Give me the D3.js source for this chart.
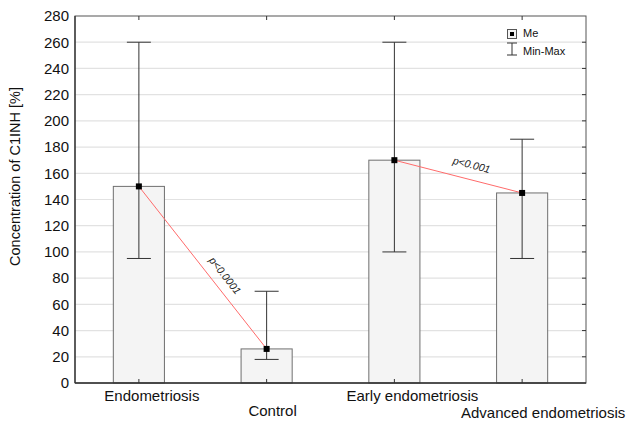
<!DOCTYPE html>
<html>
<head>
<meta charset="utf-8">
<script src="https://cdn.jsdelivr.net/npm/d3@7"></script>
<style>
  body { margin: 0; background: #fff; }
  text { font-family: Arial, "Liberation Sans", sans-serif; fill: #111; }
</style>
</head>
<body>
<div id="chart"></div>
<script>
const groups = ["Endometriosis", "Control", "Early endometriosis", "Advanced endometriosis"];
const medians = [150, 26, 170, 145];
const mins = [95, 18, 100, 95];
const maxs = [260, 70, 260, 186];
const yTicks = d3.range(0, 281, 20);
const comparisons = [
  { from: 0, to: 1, label: "p<0.0001" },
  { from: 2, to: 3, label: "p<0.001" }
];

const width = 630, height = 423;
const margin = { top: 16, right: 44, bottom: 40, left: 75 };

const svg = d3.select("#chart").append("svg")
  .attr("width", width).attr("height", height);

const x = d3.scaleBand().domain(groups)
  .range([margin.left, width - margin.right]).padding(0);
const y = d3.scaleLinear().domain([0, 280])
  .range([height - margin.bottom, margin.top]);

const x0 = margin.left, x1 = width - margin.right;
const y0 = height - margin.bottom, y1 = margin.top;
const cx = (i) => x(groups[i]) + x.bandwidth() / 2;

// grid
svg.append("g").selectAll("line")
  .data(yTicks.slice(1, -1))
  .join("line")
  .attr("x1", x0).attr("x2", x1)
  .attr("y1", (d) => y(d)).attr("y2", (d) => y(d))
  .attr("stroke", "#e2e2e2").attr("stroke-width", 1.2);

// bars
const barW = x.bandwidth() * 0.4;
svg.append("g").selectAll("rect")
  .data(groups)
  .join("rect")
  .attr("x", (d, i) => cx(i) - barW / 2)
  .attr("y", (d, i) => y(medians[i]))
  .attr("width", barW)
  .attr("height", (d, i) => y(0) - y(medians[i]))
  .attr("fill", "#f4f4f4")
  .attr("stroke", "#6f6f6f")
  .attr("stroke-width", 1);

// whiskers
const capW = 12;
const wg = svg.append("g").attr("stroke", "#333").attr("stroke-width", 1);
groups.forEach((g, i) => {
  wg.append("line").attr("x1", cx(i)).attr("x2", cx(i))
    .attr("y1", y(mins[i])).attr("y2", y(maxs[i]));
  [mins[i], maxs[i]].forEach((v) => {
    wg.append("line").attr("x1", cx(i) - capW).attr("x2", cx(i) + capW)
      .attr("y1", y(v)).attr("y2", y(v));
  });
});

// comparison lines, label shifted along / above the line
const labelShift = [[20, -9], [10, -11]];
comparisons.forEach((c, k) => {
  const ax = cx(c.from), ay = y(medians[c.from]);
  const bx = cx(c.to), by = y(medians[c.to]);
  svg.append("line")
    .attr("x1", ax).attr("y1", ay).attr("x2", bx).attr("y2", by)
    .attr("stroke", "#ff6b6b").attr("stroke-width", 1);
  const ang = Math.atan2(by - ay, bx - ax) * 180 / Math.PI;
  const mx = (ax + bx) / 2, my = (ay + by) / 2;
  svg.append("text")
    .attr("transform", `translate(${mx},${my}) rotate(${ang})`)
    .attr("x", labelShift[k][0])
    .attr("y", labelShift[k][1])
    .attr("text-anchor", "middle")
    .attr("font-size", 10.5)
    .attr("font-style", "italic")
    .style("fill", "#222")
    .text(c.label);
});

// median markers
svg.append("g").selectAll("rect")
  .data(groups)
  .join("rect")
  .attr("x", (d, i) => cx(i) - 3)
  .attr("y", (d, i) => y(medians[i]) - 3)
  .attr("width", 6).attr("height", 6)
  .attr("fill", "#000");

// frame
svg.append("rect")
  .attr("x", x0).attr("y", y1)
  .attr("width", x1 - x0).attr("height", y0 - y1)
  .attr("fill", "none").attr("stroke", "#555").attr("stroke-width", 1);
svg.append("line").attr("x1", x0).attr("x2", x1).attr("y1", y0).attr("y2", y0)
  .attr("stroke", "#333").attr("stroke-width", 1.3);
svg.append("line").attr("x1", x0).attr("x2", x0).attr("y1", y0).attr("y2", y1)
  .attr("stroke", "#333").attr("stroke-width", 1.3);

// right inner ticks
svg.append("g").selectAll("line")
  .data(yTicks.slice(1, -1))
  .join("line")
  .attr("x1", x1 - 4).attr("x2", x1)
  .attr("y1", (d) => y(d)).attr("y2", (d) => y(d))
  .attr("stroke", "#333");

// top & bottom inner ticks
groups.forEach((g, i) => {
  svg.append("line").attr("x1", cx(i)).attr("x2", cx(i))
    .attr("y1", y1).attr("y2", y1 + 4).attr("stroke", "#333");
  svg.append("line").attr("x1", cx(i)).attr("x2", cx(i))
    .attr("y1", y0).attr("y2", y0 - 4).attr("stroke", "#333");
});

// y axis labels
const yAxis = d3.axisLeft(y).tickValues(yTicks).tickSize(0).tickPadding(6);
svg.append("g")
  .attr("transform", `translate(${x0},0)`)
  .call(yAxis)
  .call((g) => g.select(".domain").remove())
  .call((g) => g.selectAll("text")
    .attr("font-size", 15)
    .attr("font-family", "Arial, 'Liberation Sans', sans-serif")
    .style("fill", "#111"));

svg.append("text")
  .attr("transform", `translate(20,${(y0 + y1) / 2 - 23}) rotate(-90)`)
  .attr("text-anchor", "middle")
  .attr("font-size", 14.5)
  .text("Concentration of C1INH [%]");

// x labels (staggered)
const labelDx = [13, 6, 18, 21];
const labelY = [401, 416, 401, 418];
svg.append("g").selectAll("text")
  .data(groups)
  .join("text")
  .attr("x", (d, i) => cx(i) + labelDx[i])
  .attr("y", (d, i) => labelY[i])
  .attr("text-anchor", "middle")
  .attr("font-size", 15)
  .text((d) => d);

// legend
const lg = svg.append("g").attr("transform", "translate(507,29)");
lg.append("rect").attr("x", 0.5).attr("y", 0.5).attr("width", 9).attr("height", 9)
  .attr("fill", "#f4f4f4").attr("stroke", "#555");
lg.append("rect").attr("x", 3).attr("y", 3).attr("width", 4).attr("height", 4)
  .attr("fill", "#000");
lg.append("text").attr("x", 16).attr("y", 8).attr("font-size", 11).text("Me");
lg.append("g").attr("stroke", "#333").call((g) => {
  g.append("line").attr("x1", 5).attr("x2", 5).attr("y1", 14).attr("y2", 26);
  g.append("line").attr("x1", 0).attr("x2", 10).attr("y1", 14).attr("y2", 14);
  g.append("line").attr("x1", 0).attr("x2", 10).attr("y1", 26).attr("y2", 26);
});
lg.append("text").attr("x", 16).attr("y", 26).attr("font-size", 11).text("Min-Max");
</script>
</body>
</html>
